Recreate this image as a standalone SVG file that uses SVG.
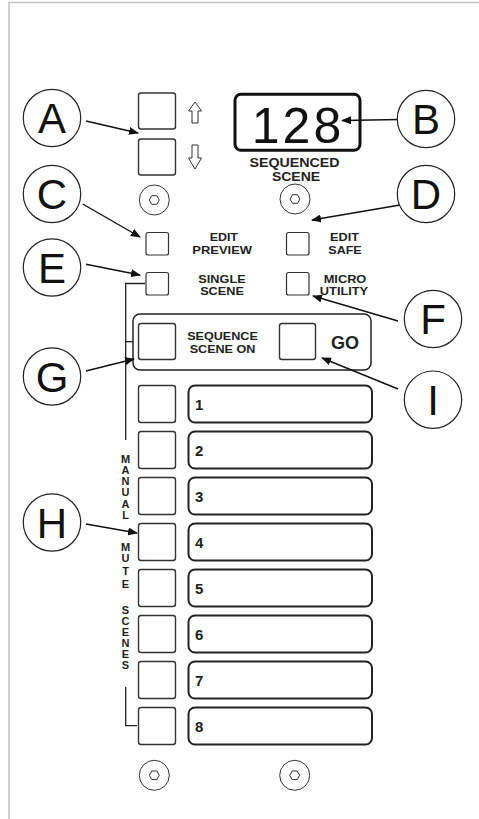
<svg xmlns="http://www.w3.org/2000/svg" xmlns:xlink="http://www.w3.org/1999/xlink" width="479" height="819" viewBox="0 0 479 819">
<style>
.frame{fill:none;stroke:#c4c4c4;stroke-width:1.6}
.call{fill:#fff;stroke:#222;stroke-width:1.2}
.callt{font-family:"Liberation Sans",Arial,sans-serif;font-size:42px;fill:#111;text-anchor:middle}
.btn{fill:#fff;stroke:#333;stroke-width:1.4}
.sbtn{fill:#fff;stroke:#333;stroke-width:1.2}
.lab{font-family:"Liberation Sans",Arial,sans-serif;font-weight:bold;font-size:10px;fill:#222;text-anchor:middle}
.row{fill:#fff;stroke:#222;stroke-width:2}
.num{font-family:"Liberation Sans",Arial,sans-serif;font-weight:bold;font-size:15px;fill:#222}
.vt{font-family:"Liberation Sans",Arial,sans-serif;font-weight:bold;font-size:11px;fill:#222;text-anchor:middle}
.conn{fill:none;stroke:#111;stroke-width:1.4}
.brk{fill:none;stroke:#222;stroke-width:1.3}
.glyph{fill:#fff;stroke:#333;stroke-width:1}
</style>
<defs>
<marker id="ah" markerUnits="userSpaceOnUse" markerWidth="10" markerHeight="8" refX="9" refY="4" orient="auto">
<path d="M0,0 L10,4 L0,8 Z" fill="#111"/>
</marker>
<g id="knob">
<circle cx="0" cy="0" r="15" fill="#fff" stroke="#333" stroke-width="1"/>
<polygon points="-5,0 -2.5,-4.3 2.5,-4.3 5,0 2.5,4.3 -2.5,4.3" fill="none" stroke="#333" stroke-width="1"/>
</g>
</defs>

<g id="frame">
<path class="frame" d="M9,819 L9,2.5 L479,2.5"/>
</g>

<g id="updown">
<rect class="btn" x="138.5" y="93" width="37" height="36" rx="2.5"/>
<rect class="btn" x="138.5" y="139" width="37" height="36" rx="2.5"/>
<path class="glyph" d="M195,102 L201.5,111 L198,111 L198,123 L192,123 L192,111 L188.5,111 Z"/>
<path class="glyph" d="M195,169 L201.5,158 L198,158 L198,145 L192,145 L192,158 L188.5,158 Z"/>
</g>

<g id="display">
<rect x="235" y="94.2" width="125" height="56" rx="6" fill="#fff" stroke="#111" stroke-width="3"/>
<text x="298" y="143" font-family="'Liberation Sans',Arial,sans-serif" font-size="50" fill="#111" text-anchor="middle" letter-spacing="3">128</text>
<text class="lab" transform="translate(294.5 166.5) scale(1.14 1)" style="font-size:12.5px">SEQUENCED</text>
<text class="lab" transform="translate(296 180.5) scale(1.12 1)" style="font-size:12.5px">SCENE</text>
</g>

<g id="knobs">
<use xlink:href="#knob" x="154.3" y="200"/>
<use xlink:href="#knob" x="295" y="199"/>
<use xlink:href="#knob" x="154.3" y="775.3"/>
<use xlink:href="#knob" x="294.7" y="775.3"/>
</g>

<g id="edit-preview">
<rect class="sbtn" x="146" y="232.5" width="22.5" height="22.5" rx="2"/>
<text class="lab" transform="translate(223.8 240.7) scale(1.24 1)">EDIT</text>
<text class="lab" transform="translate(222.2 254.3) scale(1.3 1)">PREVIEW</text>
</g>
<g id="single-scene">
<rect class="sbtn" x="146" y="272.5" width="22.5" height="22.5" rx="2"/>
<text class="lab" transform="translate(222 283.2) scale(1.27 1)">SINGLE</text>
<text class="lab" transform="translate(222 294.5) scale(1.27 1)">SCENE</text>
</g>
<g id="edit-safe">
<rect class="sbtn" x="286.5" y="232.5" width="22.5" height="22.5" rx="2"/>
<text class="lab" transform="translate(344.5 240.7) scale(1.27 1)">EDIT</text>
<text class="lab" transform="translate(345 254.3) scale(1.25 1)">SAFE</text>
</g>
<g id="micro-utility">
<rect class="sbtn" x="286.5" y="272.5" width="22.5" height="22.5" rx="2"/>
<text class="lab" transform="translate(345 283.2) scale(1.28 1)">MICRO</text>
<text class="lab" transform="translate(344 294.5) scale(1.28 1)">UTILITY</text>
</g>

<g id="sequence-panel">
<rect x="133" y="314" width="238" height="56" rx="7" fill="#fff" stroke="#222" stroke-width="1.5"/>
<rect class="btn" x="138.5" y="323.5" width="37" height="36" rx="2.5"/>
<text class="lab" transform="translate(222.5 339.5) scale(1.2 1)" style="font-size:10.5px">SEQUENCE</text>
<text class="lab" transform="translate(222.5 352.5) scale(1.2 1)" style="font-size:10.5px">SCENE ON</text>
<rect class="btn" x="279.5" y="323.5" width="36" height="36" rx="2.5"/>
<text x="345" y="348.5" font-family="'Liberation Sans',Arial,sans-serif" font-weight="bold" font-size="18" fill="#222" text-anchor="middle">GO</text>
</g>

<g id="rows">
<g id="row1"><rect class="btn" x="138.5" y="385.5" width="37" height="37" rx="2.5"/><rect class="row" x="188.5" y="385.5" width="183.5" height="37" rx="6.5"/><text class="num" x="195" y="409.5">1</text></g>
<g id="row2"><rect class="btn" x="138.5" y="431.5" width="37" height="37" rx="2.5"/><rect class="row" x="188.5" y="431.5" width="183.5" height="37" rx="6.5"/><text class="num" x="195" y="455.5">2</text></g>
<g id="row3"><rect class="btn" x="138.5" y="477.5" width="37" height="37" rx="2.5"/><rect class="row" x="188.5" y="477.5" width="183.5" height="37" rx="6.5"/><text class="num" x="195" y="501.5">3</text></g>
<g id="row4"><rect class="btn" x="138.5" y="523.5" width="37" height="37" rx="2.5"/><rect class="row" x="188.5" y="523.5" width="183.5" height="37" rx="6.5"/><text class="num" x="195" y="547.5">4</text></g>
<g id="row5"><rect class="btn" x="138.5" y="569.5" width="37" height="37" rx="2.5"/><rect class="row" x="188.5" y="569.5" width="183.5" height="37" rx="6.5"/><text class="num" x="195" y="593.5">5</text></g>
<g id="row6"><rect class="btn" x="138.5" y="615.5" width="37" height="37" rx="2.5"/><rect class="row" x="188.5" y="615.5" width="183.5" height="37" rx="6.5"/><text class="num" x="195" y="639.5">6</text></g>
<g id="row7"><rect class="btn" x="138.5" y="661.5" width="37" height="37" rx="2.5"/><rect class="row" x="188.5" y="661.5" width="183.5" height="37" rx="6.5"/><text class="num" x="195" y="685.5">7</text></g>
<g id="row8"><rect class="btn" x="138.5" y="707.5" width="37" height="37" rx="2.5"/><rect class="row" x="188.5" y="707.5" width="183.5" height="37" rx="6.5"/><text class="num" x="195" y="731.5">8</text></g>
</g>

<g id="manual-mute-scenes">
<path class="brk" d="M145,283.5 L125.7,283.5 L125.7,440"/>
<path class="brk" d="M125.7,341.7 L133,341.7"/>
<path class="brk" d="M125.7,687 L125.7,725.7 L137,725.7"/>
<text class="vt" x="125.5" y="462.5">M</text>
<text class="vt" x="125.5" y="473.8">A</text>
<text class="vt" x="125.5" y="485.1">N</text>
<text class="vt" x="125.5" y="496.4">U</text>
<text class="vt" x="125.5" y="507.7">A</text>
<text class="vt" x="125.5" y="519">L</text>
<text class="vt" x="125.5" y="550.5">M</text>
<text class="vt" x="125.5" y="562">U</text>
<text class="vt" x="125.5" y="575">T</text>
<text class="vt" x="125.5" y="588">E</text>
<text class="vt" x="125.5" y="614">S</text>
<text class="vt" x="125.5" y="625">C</text>
<text class="vt" x="125.5" y="636">E</text>
<text class="vt" x="125.5" y="647">N</text>
<text class="vt" x="125.5" y="658">E</text>
<text class="vt" x="125.5" y="669">S</text>
</g>

<g id="connectors">
<line class="conn" x1="86" y1="121" x2="138" y2="133" marker-end="url(#ah)"/>
<line class="conn" x1="400" y1="119.5" x2="342" y2="120.5" marker-end="url(#ah)"/>
<line class="conn" x1="82.7" y1="204" x2="140" y2="237" marker-end="url(#ah)"/>
<line class="conn" x1="400" y1="205" x2="312" y2="220" marker-end="url(#ah)"/>
<line class="conn" x1="86" y1="264.3" x2="140" y2="275" marker-end="url(#ah)"/>
<line class="conn" x1="398" y1="321" x2="313" y2="296" marker-end="url(#ah)"/>
<line class="conn" x1="86" y1="371" x2="134" y2="359" marker-end="url(#ah)"/>
<line class="conn" x1="86" y1="524" x2="137" y2="533" marker-end="url(#ah)"/>
<line class="conn" x1="398" y1="389" x2="322" y2="358" marker-end="url(#ah)"/>
</g>

<g id="callout-A"><circle class="call" cx="52" cy="118" r="28.7"/><text class="callt" x="52" y="133">A</text></g>
<g id="callout-B"><circle class="call" cx="426" cy="119" r="28.7"/><text class="callt" x="426" y="134">B</text></g>
<g id="callout-C"><circle class="call" cx="52" cy="194" r="28.7"/><text class="callt" x="52" y="209">C</text></g>
<g id="callout-D"><circle class="call" cx="426" cy="194" r="28.7"/><text class="callt" x="426" y="209">D</text></g>
<g id="callout-E"><circle class="call" cx="52" cy="267.5" r="28.7"/><text class="callt" x="52" y="282.5">E</text></g>
<g id="callout-F"><circle class="call" cx="433" cy="319" r="28.7"/><text class="callt" x="433" y="334">F</text></g>
<g id="callout-G"><circle class="call" cx="52" cy="376.5" r="28.7"/><text class="callt" x="52" y="391.5">G</text></g>
<g id="callout-H"><circle class="call" cx="52" cy="522.5" r="28.7"/><text class="callt" x="52" y="537.5">H</text></g>
<g id="callout-I"><circle class="call" cx="433" cy="399.7" r="28.7"/><text class="callt" x="433" y="414.7">I</text></g>
</svg>
